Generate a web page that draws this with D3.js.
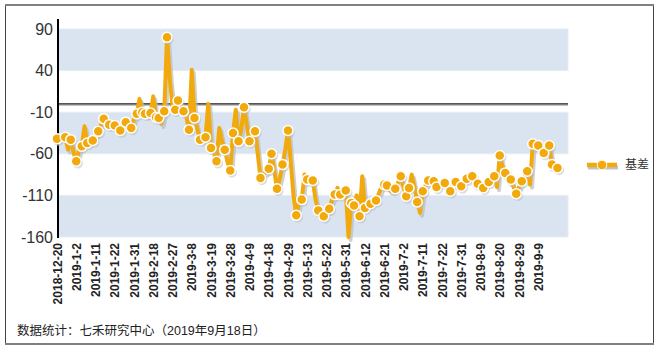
<!DOCTYPE html>
<html><head><meta charset="utf-8">
<script src="https://cdn.jsdelivr.net/npm/d3@7"></script>
<style>body{margin:0;background:#fff}svg{display:block}</style>
</head><body>
<svg id="c" width="659" height="351"></svg>
<script>
// ---- data ----
const seriesName = "基差";
const values = [
-42,-41,-40,-40,-55,-43,-58,-69,-56,-51,
-27,-47,-45,-44,-38,-33,-25,-18,-22,-25,
-24,-26,-30,-32,-26,-22,-26,-29,-18,-12,
6,-10,-12,-14,-11,9,-16,-17,-24,-9,
80,30,-3,-7,4,-2,-9,-15,-31,41,
-17,-30,-43,-38,-40,0,-53,-58,-69,-29,
-45,-55,-70,-80,-35,-7,-45,-30,-4,-25,
-45,-40,-33,-60,-89,-85,-82,-78,-60,-80,
-102,-90,-73,-55,-32,-70,-110,-134,-118,-115,
-85,-91,-93,-92,-115,-128,-133,-135,-130,-126,
-115,-109,-101,-109,-106,-104,-160,-119,-122,-110,
-135,-87,-125,-123,-120,-118,-116,-108,-100,-97,
-98,-104,-105,-102,-95,-87,-100,-111,-101,-85,
-100,-118,-131,-105,-98,-92,-90,-93,-100,-97,
-93,-95,-100,-105,-98,-94,-97,-99,-93,-90,
-88,-87,-92,-96,-100,-101,-96,-94,-90,-87,
-100,-62,-75,-83,-88,-91,-100,-108,-100,-93,
-88,-81,-97,-48,-49,-50,-55,-59,-54,-50,
-73,-75,-77
];
const markerIdx = [0,3,5,7,9,11,13,15,17,19,21,23,25,27,29,31,32,34,36,37,39,40,43,44,46,48,50,52,54,56,58,61,63,64,66,68,70,72,74,77,78,80,82,84,87,89,91,93,95,97,99,101,103,105,107,108,110,112,114,116,119,120,123,125,127,128,131,133,135,137,138,141,143,145,147,149,151,153,155,157,159,161,163,165,167,169,171,173,175,177,179,180,182];
const dateLabels = ["2018-12-20","2019-1-2","2019-1-11","2019-1-22","2019-1-31","2019-2-18","2019-2-27","2019-3-8","2019-3-19","2019-3-28","2019-4-9","2019-4-18","2019-4-29","2019-5-13","2019-5-22","2019-5-31","2019-6-12","2019-6-21","2019-7-2","2019-7-11","2019-7-22","2019-7-31","2019-8-9","2019-8-20","2019-8-29","2019-9-9"];
const labelStep = 7;
const yTicks = [90,40,-10,-60,-110,-160];
const footnote = "数据统计：七禾研究中心（2019年9月18日）";

// ---- layout ----
const svg = d3.select("#c");
const plotL = 58, plotR = 568, plotT = 29, plotB = 237;
const orange = "#f2a90c";
const x = d3.scaleLinear().domain([0, values.length - 1]).range([57, 557.5]);
const y = d3.scaleLinear().domain([-160, 90]).range([plotB, plotT]);

// frame
svg.append("rect").attr("x",5.5).attr("y",5.5).attr("width",648).attr("height",338)
  .attr("fill","none").attr("stroke","#444").attr("stroke-width",1);
svg.append("line").attr("x1",5).attr("x2",654).attr("y1",5).attr("y2",5).attr("stroke","#808080").attr("stroke-width",2);
svg.append("line").attr("x1",5).attr("x2",654).attr("y1",344).attr("y2",344).attr("stroke","#808080").attr("stroke-width",2);

// bands
const bands = [];
for (let k = 0; k + 1 < yTicks.length; k += 2) bands.push([yTicks[k], yTicks[k+1]]);
svg.append("g").selectAll("rect").data(bands).join("rect")
  .attr("x", plotL).attr("width", plotR - plotL)
  .attr("y", d => y(d[0])).attr("height", d => y(d[1]) - y(d[0]))
  .attr("fill", "#d9e4f0").attr("stroke","#e6edf5").attr("stroke-width",1);

// zero line
svg.append("line").attr("x1",plotL).attr("x2",plotR).attr("y1",y(0)+1.5).attr("y2",y(0)+1.5)
  .attr("stroke","#bbb").attr("stroke-width",1);
svg.append("line").attr("x1",plotL).attr("x2",plotR).attr("y1",y(0)).attr("y2",y(0))
  .attr("stroke","#555").attr("stroke-width",1.6);

// y axis
const yAxis = svg.append("g").attr("transform",`translate(${plotL},0)`)
  .call(d3.axisLeft(y).tickValues(yTicks).tickSize(0).tickPadding(5).tickFormat(d => String(d)));
yAxis.select(".domain").remove();
yAxis.selectAll("text").attr("font-family","Liberation Sans, Arial, sans-serif")
  .attr("font-size",16).attr("fill","#333");
svg.append("line").attr("x1",plotL).attr("x2",plotL).attr("y1",19).attr("y2",plotB+1)
  .attr("stroke","#000").attr("stroke-width",2);

// x axis labels
const tickIdx = dateLabels.map((d,i) => i * labelStep);
const xAxis = svg.append("g").attr("transform",`translate(0,${plotB})`)
  .call(d3.axisBottom(x).tickValues(tickIdx).tickSize(0).tickFormat((d,i) => dateLabels[i]));
xAxis.select(".domain").remove();
xAxis.selectAll("text")
  .attr("font-family","Liberation Sans, Arial, sans-serif").attr("font-size",12).attr("font-weight","bold")
  .attr("fill","#222")
  .attr("text-anchor","end").attr("transform","rotate(-90)")
  .attr("x",-6).attr("y",0).attr("dy","0.35em");

// line + shadow
const line = d3.line().x((d,i) => x(i)).y(d => y(d));
svg.append("path").datum(values).attr("d", line).attr("transform","translate(2,3)")
  .attr("fill","none").attr("stroke","#b8bcc2").attr("stroke-opacity",0.7).attr("stroke-width",4)
  .attr("stroke-linejoin","round");
svg.append("path").datum(values).attr("d", line)
  .attr("fill","none").attr("stroke",orange).attr("stroke-width",4).attr("stroke-linejoin","round");

// markers
svg.append("g").selectAll("circle").data(markerIdx).join("circle")
  .attr("cx", i => x(i) + 1.5).attr("cy", i => y(values[i]) + 2)
  .attr("r", 5.2).attr("fill","#b8bcc2").attr("fill-opacity",0.5);
svg.append("g").selectAll("circle").data(markerIdx).join("circle")
  .attr("cx", i => x(i)).attr("cy", i => y(values[i]))
  .attr("r", 5).attr("fill",orange).attr("stroke","#fff").attr("stroke-width",1.5);

// legend
const lg = svg.append("g").attr("transform","translate(587,165)");
lg.append("line").attr("x1",1).attr("x2",31).attr("y1",2.5).attr("y2",2.5).attr("stroke","#c0c3c8").attr("stroke-width",4);
lg.append("line").attr("x1",0).attr("x2",30).attr("y1",0).attr("y2",0).attr("stroke",orange).attr("stroke-width",4.5);
lg.append("circle").attr("cx",15).attr("cy",0).attr("r",4.8).attr("fill",orange).attr("stroke","#fff").attr("stroke-width",1);
lg.append("text").attr("x",38).attr("y",0).attr("dy","0.36em").text(seriesName)
  .attr("font-family","Noto Sans CJK SC, sans-serif").attr("font-size",12).attr("fill","#333");

// footnote
svg.append("text").attr("x",17).attr("y",335).text(footnote)
  .attr("font-family","Liberation Sans, Noto Sans CJK SC, sans-serif").attr("font-size",12.5).attr("fill","#222");
</script>
</body></html>
